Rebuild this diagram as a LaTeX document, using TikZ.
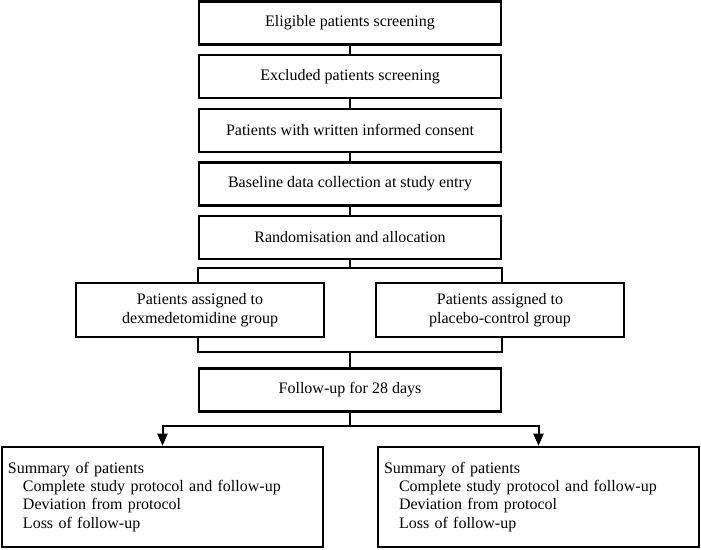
\documentclass[tikz,border=0pt]{standalone}
\usepackage{fontspec}
\setmainfont{Liberation Serif}
\usepackage{tikz}
\usetikzlibrary{arrows.meta}
\tikzstyle{process} = [rectangle, minimum width=302pt, minimum height=43pt, text centered, draw=black, line width=2.4pt, font=\fontsize{16}{19}\selectfont]
\tikzstyle{group} = [rectangle, minimum width=248pt, minimum height=54pt, align=center, draw=black, line width=2.4pt, font=\fontsize{16}{19}\selectfont]
\tikzstyle{summary} = [rectangle, text width=309pt, inner xsep=6pt, minimum height=100pt, align=left, draw=black, line width=2.4pt, font=\fontsize{16}{18.3}\selectfont]
\tikzstyle{line} = [line width=2pt]
\tikzstyle{arrow} = [line width=2pt,-{Triangle[length=12pt,width=10pt]}]

\begin{document}
\begin{tikzpicture}[x=1pt, y=1pt, node distance=53.6pt]
        \useasboundingbox (0,0) rectangle (701,-549);
        % Nodes
        \node (eligible) [process] at (350,-23) {Eligible patients screening};
        \node (excluded) [process, below of=eligible] {Excluded patients screening};
        \node (consent) [process, below of=excluded] {Patients with written informed consent};
        \node (baseline) [process, below of=consent] {Baseline data collection at study entry};
        \node (random) [process, below of=baseline] {Randomisation and allocation};
        \node (dexgroup) [group, below of=random, yshift=-19pt, xshift=-150pt] {Patients assigned to\\dexmedetomidine group};
        \node (placebo) [group, right of=dexgroup, xshift=246.4pt] {Patients assigned to\\placebo-control group};
        \node (followup) [process, below of=random, yshift=-99pt] {Follow-up for 28 days};
        \node (summaryL) [summary, below of=dexgroup, yshift=-133.3pt, xshift=-37.5pt] {Summary of patients\\
            \hspace*{15pt}Complete study protocol and follow-up\\
            \hspace*{15pt}Deviation from protocol\\
            \hspace*{15pt}Loss of follow-up};
        \node (summaryR) [summary, right of=summaryL, xshift=322.4pt] {Summary of patients\\
            \hspace*{15pt}Complete study protocol and follow-up\\
            \hspace*{15pt}Deviation from protocol\\
            \hspace*{15pt}Loss of follow-up};

        % Arrows
        \draw [line] (eligible) -- (excluded);
        \draw [line] (excluded) -- (consent);
        \draw [line] (consent) -- (baseline);
        \draw [line] (baseline) -- (random);
        \draw [line] (random.south) -- ++(0,-8pt) coordinate (split);
        \draw [line] (dexgroup.north -| random.west) |- (split) -| (placebo.north -| random.east);
        \draw [line] (followup.north) -- ++(0,15pt) coordinate (merge);
        \draw [line] (dexgroup.south -| random.west) |- (merge) -| (placebo.south -| random.east);
        \draw [line] (followup.south) -- ++(0,-13pt) coordinate (fork);
        \draw [arrow] (fork) -| (summaryL.north);
        \draw [arrow] (fork) -| (summaryR.north);
    \end{tikzpicture}
\end{document}
